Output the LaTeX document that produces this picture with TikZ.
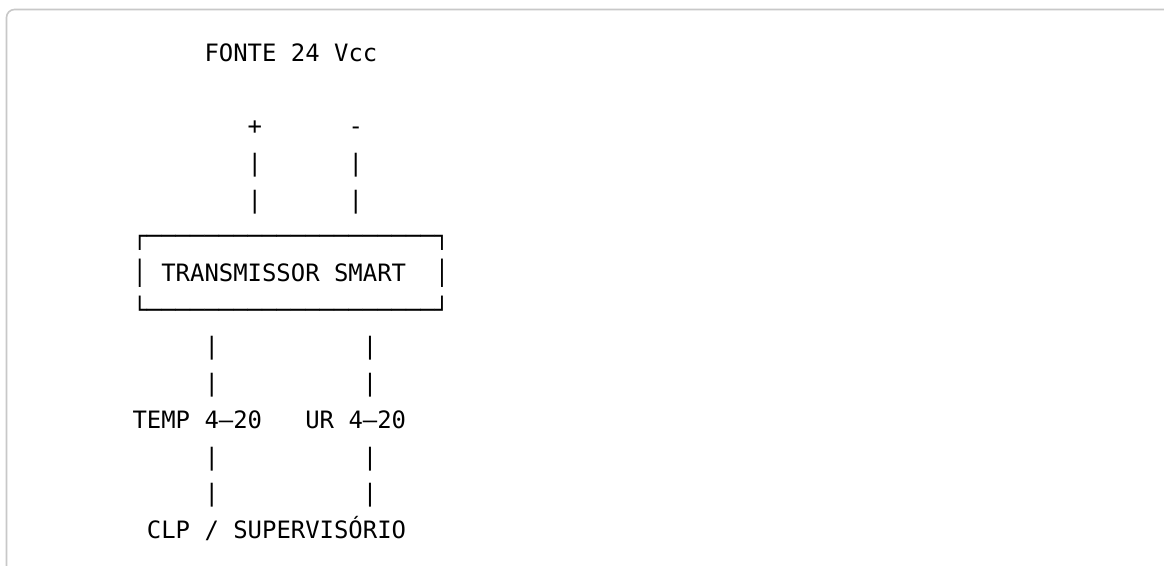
\documentclass[tikz,border=0pt]{standalone}
\usepackage{fontspec}
\setmonofont{DejaVu Sans Mono}
\definecolor{framegray}{HTML}{C8C8C8}
\tikzset{
  txt/.style={anchor=base west, inner sep=0pt, outer sep=0pt,
    font={\fontsize{17.94}{20}\selectfont\ttfamily}, text=black},
  frame/.style={draw=framegray, line width=1.2pt, rounded corners=6pt}
}
\begin{document}
\begin{tikzpicture}[x=0.75pt,y=-0.75pt]
\useasboundingbox (0,0) rectangle (1164,566);
\fill[white] (0,0) rectangle (1164,566);
\begin{scope}
\clip (0,0) rectangle (1164,566);
\draw[frame] (6.5,9.5) rectangle (1200,620);
\end{scope}
% line 0
\node[txt] (fonte) at (204.5,61.7) {FONTE 24 Vcc};
% line 2
\node[txt] (plus) at (247.7,135.0) {+};
\node[txt] (minus) at (348.5,135.0) {-};
% lines 3-4
\node[txt] (pa) at (247.7,171.7) {|};
\node[txt] (ma) at (348.5,171.7) {|};
\node[txt] (pb) at (247.7,208.3) {|};
\node[txt] (mb) at (348.5,208.3) {|};
% box lines 5-7
\node[txt] (boxtop) at (132.5,245.0) {┌────────────────────┐};
\node[txt] (boxmid) at (132.5,281.7) {│\ TRANSMISSOR\ SMART\ \ │};
\node[txt] (boxbot) at (132.5,318.3) {└────────────────────┘};
% lines 8-9
\node[txt] (ta) at (204.5,355.0) {|};
\node[txt] (ua) at (362.9,355.0) {|};
\node[txt] (tb) at (204.5,391.6) {|};
\node[txt] (ub) at (362.9,391.6) {|};
% line 10
\node[txt] (temp) at (132.5,428.3) {TEMP 4–20};
\node[txt] (ur) at (305.3,428.3) {UR 4–20};
% lines 11-12
\node[txt] (tc) at (204.5,465.0) {|};
\node[txt] (uc) at (362.9,465.0) {|};
\node[txt] (td) at (204.5,501.6) {|};
\node[txt] (ud) at (362.9,501.6) {|};
% line 13
\node[txt] (clp) at (146.9,538.3) {CLP / SUPERVISÓRIO};
\end{tikzpicture}
\end{document}
